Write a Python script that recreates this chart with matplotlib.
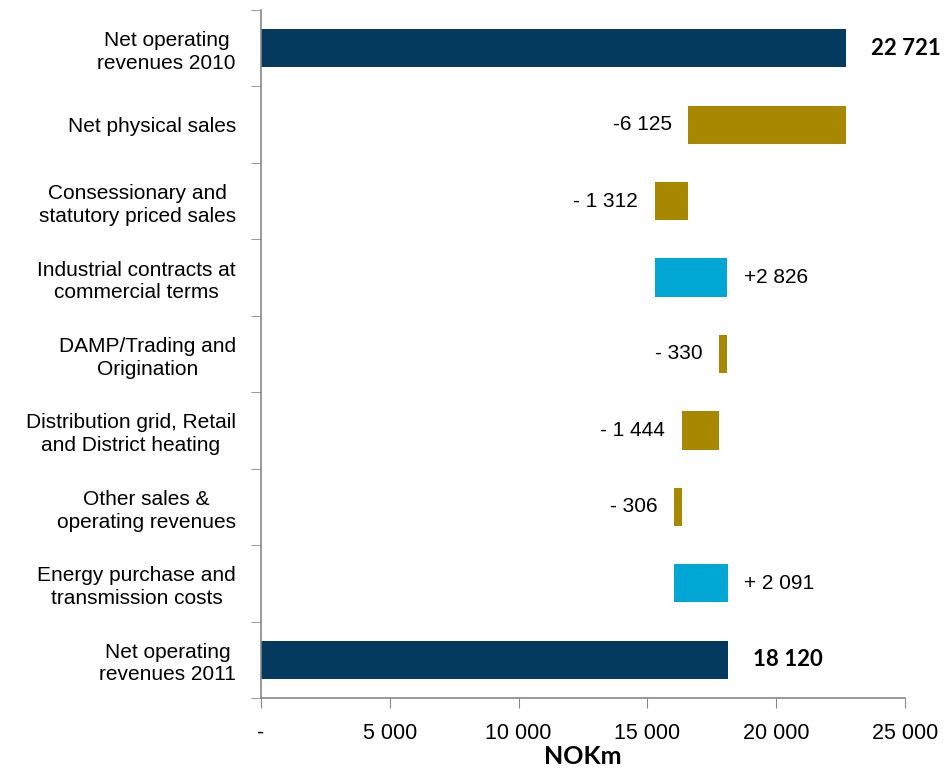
import numpy as np
import matplotlib.pyplot as plt
from matplotlib.ticker import FixedLocator

# revenue bridge 2010 -> 2011, NOKm
categories = [
    "Net operating\nrevenues 2010",
    "Net physical sales",
    "Consessionary and\nstatutory priced sales",
    "Industrial contracts at\ncommercial terms",
    "DAMP/Trading and\nOrigination",
    "Distribution grid, Retail\nand District heating",
    "Other sales &\noperating revenues",
    "Energy purchase and\ntransmission costs",
    "Net operating\nrevenues 2011",
]
changes = [22721, -6125, -1312, 2826, -330, -1444, -306, 2091, 18120]
is_total = [True, False, False, False, False, False, False, False, True]
value_labels = ["22 721", "-6 125", "- 1 312", "+2 826", "- 330",
                "- 1 444", "- 306", "+ 2 091", "18 120"]
xticks = [0, 5000, 10000, 15000, 20000, 25000]
xtick_labels = ["-", "5 000", "10 000", "15 000", "20 000", "25 000"]

NAVY = "#033a5e"
GOLD = "#a88800"
CYAN = "#00a7d5"

plt.rcParams['font.family'] = ['Liberation Sans', 'DejaVu Sans']

fig = plt.figure(figsize=(9.49, 7.75), dpi=100)
ax = fig.add_axes([0.275, 0.0994, 0.6786, 0.8877])

# running level for the floating bars
lefts, widths, colors = [], [], []
level = 0
for val, tot in zip(changes, is_total):
    if tot:
        lefts.append(0)
        widths.append(val)
        colors.append(NAVY)
        level = val
    else:
        new = level + val
        lefts.append(min(level, new))
        widths.append(abs(val))
        colors.append(GOLD if val < 0 else CYAN)
        level = new

y = np.arange(len(categories))
ax.barh(y, widths, left=lefts, height=0.5, color=colors)

for i, (l, w, val, tot, txt) in enumerate(zip(lefts, widths, changes, is_total, value_labels)):
    if tot:
        ax.annotate(txt, (l + w, i), xytext=(18, 0), textcoords="offset points",
                    ha="left", va="center", fontsize=16, fontweight="bold",
                    family=["Lato", "DejaVu Sans"])
    elif val < 0:
        ax.annotate(txt, (l, i), xytext=(-12, 0), textcoords="offset points",
                    ha="right", va="center", fontsize=15)
    else:
        ax.annotate(txt, (l + w, i), xytext=(12, 0), textcoords="offset points",
                    ha="left", va="center", fontsize=15)

ax.set_xlim(0, 25000)
ax.set_ylim(len(categories) - 0.5, -0.5)

ax.set_xticks(xticks)
ax.set_xticklabels(xtick_labels)
ax.tick_params(axis="x", direction="out", length=7, color="#888888",
               labelsize=15.5, pad=11)

# category names centred on each row, tick marks at row boundaries
ax.set_yticks(y)
ax.set_yticklabels(categories, fontsize=15, multialignment="center", linespacing=1.25)
ax.tick_params(axis="y", which="major", length=0, pad=18)
ax.yaxis.set_minor_locator(FixedLocator(np.arange(-0.5, len(categories), 1.0)))
ax.tick_params(axis="y", which="minor", direction="out", length=7, color="#888888")

for side in ["top", "right"]:
    ax.spines[side].set_visible(False)
for side in ["left", "bottom"]:
    ax.spines[side].set_color("#888888")
    ax.spines[side].set_linewidth(1.2)

ax.set_xlabel("NOKm", fontsize=18, fontweight="bold", labelpad=1,
              family=["Lato", "DejaVu Sans"])

fig.savefig("out.png", dpi=100)
